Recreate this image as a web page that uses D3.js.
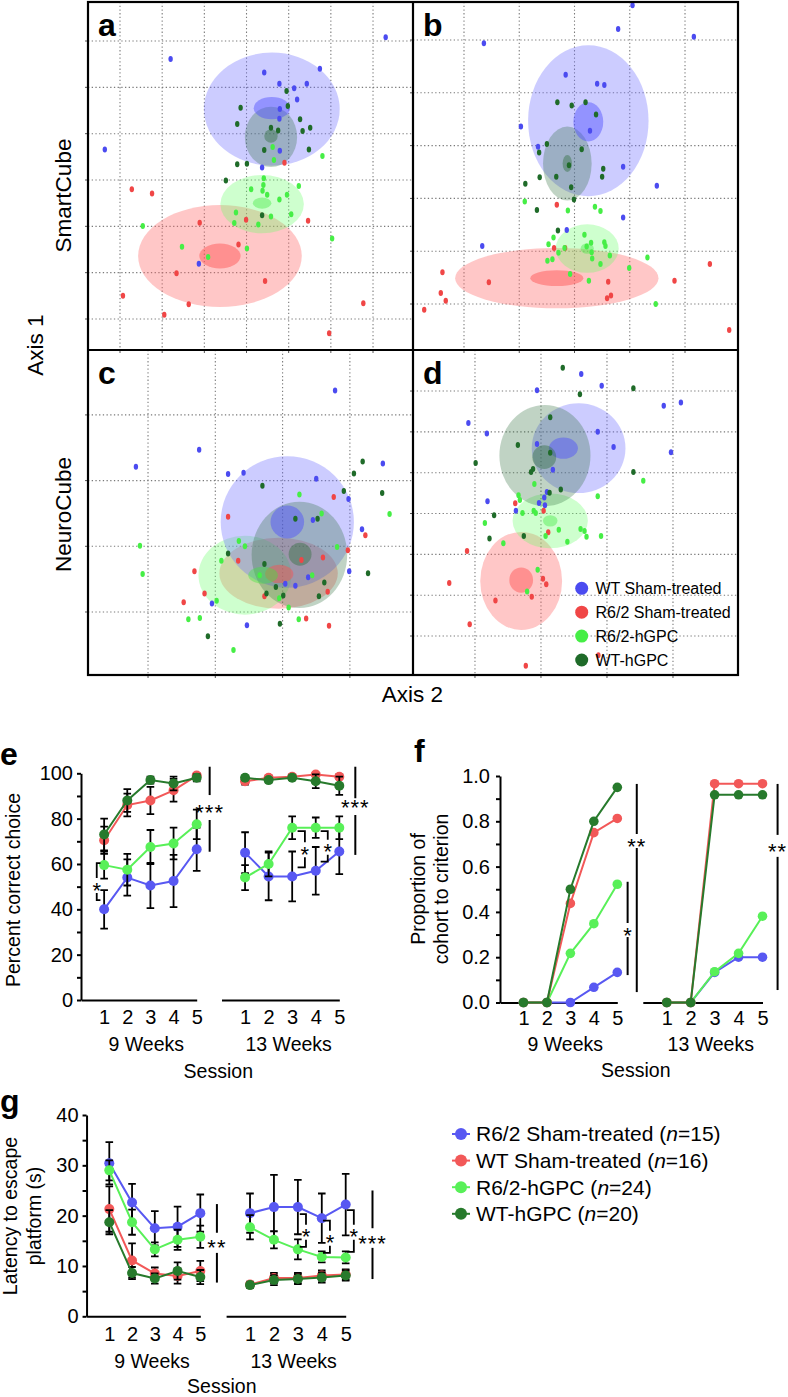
<!DOCTYPE html>
<html><head><meta charset="utf-8">
<script src="https://cdn.jsdelivr.net/npm/d3@7"></script>
<style>
body{margin:0;background:#fff}
svg{display:block;font-family:"Liberation Sans",Arial,Helvetica,sans-serif}
</style>
</head><body>
<svg id="chart" width="788" height="1397"></svg>
<script>
// ================= DATA =================
// --- Scatter panels a-d: points as [Axis 2, Axis 1] in grid units ---
const scatterGroups = ["WT Sham-treated","R6/2 Sham-treated","R6/2-hGPC","WT-hGPC"];
const scatterColors = ["#4b4bf0","#f04646","#46ee46","#1f6b29"];

const aWT   = [[6.30,6.08],[1.20,5.61],[3.42,5.32],[4.74,5.40],[3.78,5.08],[4.13,4.98],[4.43,5.08],[4.20,4.74],[3.79,4.53],[3.78,4.32],[-0.36,3.66],[3.79,3.63],[3.37,3.27],[1.87,1.19]];
const aR62  = [[3.90,3.37],[0.28,2.80],[0.76,2.71],[1.89,2.08],[2.99,2.14],[4.46,2.12],[2.81,1.61],[1.34,0.99],[3.44,0.82],[0.07,0.50],[1.63,0.32],[1.05,0.09],[5.77,0.34],[4.96,-0.31]];
const aR62h = [[3.62,3.71],[3.65,3.43],[4.80,3.52],[3.41,3.04],[3.40,2.89],[3.11,2.80],[3.38,2.77],[4.24,2.87],[3.49,2.68],[3.96,2.68],[3.78,2.58],[2.75,2.30],[3.58,2.21],[4.06,2.26],[2.71,2.07],[3.28,2.04],[0.54,2.01],[5.03,1.74],[1.47,1.56],[3.01,1.52],[2.09,1.34]];
const aWTh  = [[3.95,4.92],[2.86,4.56],[3.98,4.60],[2.78,4.21],[4.27,4.31],[3.58,4.13],[4.33,4.06],[4.51,4.13],[3.75,4.07],[3.42,3.65],[4.48,3.66],[2.78,3.34],[3.01,3.35],[2.51,2.99],[3.37,2.24]];

const bWT   = [[3.05,5.66],[2.79,5.21],[4.16,5.06],[0.36,4.94],[1.84,4.34],[2.41,4.17],[2.54,4.15],[1.03,3.36],[2.28,3.28],[1.34,2.98],[2.88,2.60],[3.49,2.24],[2.88,1.64],[1.86,1.40],[0.33,1.10]];
const bR62  = [[1.68,1.88],[1.63,1.06],[1.83,1.06],[4.45,0.76],[-0.39,0.60],[0.45,0.41],[2.61,0.42],[3.81,0.44],[-0.42,0.21],[-0.33,0.06],[2.66,0.16],[2.59,0.11],[-0.72,-0.11],[4.80,-0.49]];
const bR62h = [[1.10,1.94],[1.88,1.77],[2.37,1.84],[2.47,1.76],[1.62,1.26],[2.18,1.31],[1.53,1.13],[1.82,1.06],[2.22,1.09],[2.30,1.16],[2.54,1.17],[2.56,1.10],[1.71,0.97],[2.31,0.98],[2.64,0.92],[1.51,0.82],[1.60,0.85],[2.32,0.86],[2.47,0.76],[3.32,0.88],[2.99,0.68],[1.92,0.57],[2.26,0.44],[3.47,0.00]];
const bWTh  = [[1.69,3.82],[1.95,3.76],[2.20,3.82],[2.39,3.59],[1.50,3.03],[1.36,2.87],[2.13,2.93],[1.90,2.63],[2.52,2.56],[2.50,2.41],[1.67,2.41],[1.37,2.40],[1.11,2.28],[1.94,2.21],[1.99,1.98],[1.32,1.78],[1.70,1.39]];

const cWT   = [[2.78,3.37],[0.76,2.47],[-0.18,2.21],[1.19,2.10],[1.42,2.12],[3.49,2.26],[2.50,2.03],[2.98,1.72],[2.45,1.40],[3.18,1.26],[2.99,0.62],[2.04,0.43],[2.19,0.40],[2.38,0.53],[0.95,0.13],[1.47,-0.20]];
const cR62  = [[2.76,1.75],[1.19,1.45],[3.23,1.17],[2.97,0.94],[1.34,0.78],[2.60,0.83],[2.28,0.79],[0.69,0.62],[0.84,0.28],[2.67,0.31],[1.73,0.24],[0.53,0.15],[2.35,-0.10],[2.69,-0.21]];
const cR62h = [[2.25,1.79],[2.58,1.50],[3.59,1.49],[1.35,1.08],[1.44,1.00],[-0.12,1.01],[2.81,0.99],[1.09,0.78],[-0.08,0.58],[1.66,0.56],[2.44,0.56],[1.02,0.17],[1.95,0.21],[2.09,0.07],[0.60,-0.11],[0.77,-0.09],[2.24,-0.11],[1.27,-0.58]];
const cWTh  = [[3.19,2.29],[3.06,2.11],[1.70,1.92],[2.91,1.84],[3.48,1.81],[2.19,1.42],[2.52,1.42],[1.19,0.89],[1.73,0.73],[3.27,0.59],[2.62,0.45],[1.90,0.38],[1.76,0.28],[2.01,0.25],[2.54,0.24],[1.96,-0.18],[0.89,-0.37]];

const dWT   = [[1.61,6.42],[1.92,6.13],[0.94,6.02],[2.86,5.64],[3.12,5.72],[-0.10,5.22],[0.18,4.96],[1.86,5.00],[0.94,4.70],[2.10,4.63],[2.97,4.50],[1.18,4.07],[1.09,3.53],[1.05,3.39],[0.97,3.26],[1.06,3.20],[0.19,3.30],[0.62,3.07]];
const dR62  = [[0.61,3.25],[1.04,3.07],[1.11,2.54],[-0.12,2.08],[-0.39,1.30],[1.03,1.40],[1.08,1.27],[0.86,0.96],[0.31,0.87],[-0.08,0.29],[0.77,-0.73],[1.87,-0.47]];
const dR62h = [[0.90,3.72],[2.55,3.80],[0.66,3.45],[0.68,3.33],[1.86,3.42],[0.89,3.07],[0.92,3.01],[0.72,3.01],[0.15,2.77],[1.27,2.60],[1.60,2.62],[1.66,2.57],[1.69,2.43],[1.91,2.45],[1.07,2.45],[1.40,2.31],[0.43,2.27],[0.95,1.62],[0.79,1.09]];
const dWTh  = [[1.33,6.57],[1.59,5.92],[2.40,6.07],[1.14,5.36],[0.65,4.68],[1.14,4.49],[0.01,4.24],[0.88,4.09],[0.85,4.02],[2.40,4.02],[1.13,3.51],[1.30,3.59],[0.29,2.96],[0.22,2.39],[0.74,2.45]];

// Confidence ellipses [centre Axis2, centre Axis1, radius Axis2, radius Axis1], group order as scatterGroups
const aEllOuter = [[3.60,4.53,1.61,1.22],[2.37,1.36,1.94,1.10],[3.37,2.48,0.99,0.63],[3.58,3.93,0.62,0.65]];
const aEllInner = [[3.60,4.55,0.43,0.24],[2.37,1.36,0.49,0.27],[3.37,2.50,0.22,0.12],[3.58,3.95,0.16,0.145]];
const bEllOuter = [[2.25,3.47,1.09,1.43],[1.68,0.49,1.84,0.57],[2.23,1.05,0.57,0.46],[1.87,2.66,0.44,0.70]];
const bEllInner = [[2.25,3.45,0.27,0.37],[1.68,0.49,0.48,0.15],[2.23,1.05,0.12,0.10],[1.87,2.66,0.085,0.16]];
const cEllOuter = [[2.07,1.37,0.99,1.00],[1.94,0.59,0.88,0.54],[1.44,0.56,0.69,0.60],[2.25,0.87,0.71,0.81]];
const cEllInner = [[2.07,1.37,0.25,0.25],[1.95,0.58,0.21,0.14],[1.71,0.56,0.22,0.13],[2.26,0.88,0.17,0.175]];
const dEllOuter = [[1.57,4.60,0.71,1.10],[0.70,1.35,0.62,1.20],[1.14,2.82,0.57,0.67],[1.06,4.42,0.69,1.24]];
const dEllInner = [[1.34,4.60,0.22,0.26],[0.70,1.37,0.18,0.31],[1.14,2.82,0.11,0.14],[1.05,4.38,0.18,0.29]];

// --- Line panels e-g ---
const sessions = [1,2,3,4,5];
const lineGroups = ["R6/2 Sham-treated","WT Sham-treated","R6/2-hGPC","WT-hGPC"];
const lineN = [15,16,24,20];
const lineColors = ["#5858f2","#f25858","#58f058","#277a2c"];

// e: Percent correct choice (mean, SEM)
const eR62Sham9 = [40,54,50.5,52.5,66.5],   eR62Sham9Err = [8.5,8,10,11.5,9.5];
const eWTSham9  = [70.5,86,88,92.5,99],     eWTSham9Err  = [6,5,6,5,1];
const eR62hGPC9 = [59.5,57.5,67.5,69,77.5], eR62hGPC9Err = [6,7,7.5,7,6.5];
const eWThGPC9  = [73,88,97,95.5,98],       eWThGPC9Err  = [7,5,1.5,3,1.5];
const eR62Sham13 = [65,54.5,54.5,57,65.5],   eR62Sham13Err = [9,10.5,11,10.5,10];
const eWTSham13  = [96.5,98,98.5,99.5,98.5], eWTSham13Err  = [1.5,1,1,0.5,1];
const eR62hGPC13 = [54,60,76,76,76],         eR62hGPC13Err = [5.5,5.5,5,4.5,5];
const eWThGPC13  = [98,97,98,96.5,94.5],     eWThGPC13Err  = [1,1,1,3,4];

// f: Proportion of cohort to criterion
const fR62Sham9 = [0,0,0,0.067,0.133];
const fWTSham9  = [0,0,0.4375,0.75,0.8125];
const fR62hGPC9 = [0,0,0.217,0.348,0.522];
const fWThGPC9  = [0,0,0.5,0.8,0.95];
const fR62Sham13 = [0,0,0.133,0.2,0.2];
const fWTSham13  = [0,0,0.966,0.966,0.966];
const fR62hGPC13 = [0,0,0.136,0.217,0.381];
const fWThGPC13  = [0,0,0.917,0.917,0.917];

// g: Latency to escape platform (s) (mean, SEM)
const gR62Sham9 = [30.4,22.6,17.5,17.8,20.5], gR62Sham9Err = [4.2,3.7,3.4,4,3.7];
const gWTSham9  = [21.3,11.1,8.5,8,9],        gWTSham9Err  = [4.5,3.4,1.2,1.5,2];
const gR62hGPC9 = [29,18.7,13.3,15.2,15.8],   gR62hGPC9Err = [2,2.5,1.4,2,2.2];
const gWThGPC9  = [18.7,8.6,7.5,9,7.8],       gWThGPC9Err  = [2.4,1.2,1,1.7,1.4];
const gR62Sham13 = [20.5,21.7,21.7,19.5,22.2], gR62Sham13Err = [3.9,6.4,5.4,4.9,6.1];
const gWTSham13  = [6.3,7.6,7.6,8.1,8.3],      gWTSham13Err  = [0.6,1,1,1,1];
const gR62hGPC13 = [17.7,15.2,13.3,11.8,11.7], gR62hGPC13Err = [2.4,1.7,2,1.1,1.2];
const gWThGPC13  = [6.2,7.2,7.4,7.7,8.1],      gWThGPC13Err  = [0.5,1,1,1,1];

// significance annotations (session units / value units)
const eSigBars = [{seg:"9",x:5.56,ranges:[[90.4,102.9],[65.4,79.4]],star:"***",sy:84.7},{seg:"13",x:5.68,ranges:[[89,102.9],[64,81.6]],star:"***",sy:86.9}];
const eSigBrackets = [{seg:"9",x:0.68,tick:0.84,y1:60.4,y2:44.1,sy:50.7},{seg:"13",x:3.54,tick:3.23,y1:74.5,y2:58.5,sy:66.5},{seg:"13",x:4.51,tick:4.21,y1:74.5,y2:61,sy:67.6}];
const fSigBars = [{seg:"9",x:5.83,ranges:[[0.744,0.965],[0.046,0.682]],star:"**",sy:0.71},{seg:"9",x:5.44,ranges:[[0.351,0.533],[0.121,0.289]],star:"*",sy:0.32},{seg:"13",x:5.63,ranges:[[0.740,0.965],[0.055,0.643]],star:"**",sy:0.687}];
const gSigBars = [{seg:"9",x:5.73,ranges:[[16.6,22.3],[6.7,12.6]],star:"**",sy:14.6},{seg:"13",x:6.12,ranges:[[17.5,25.0],[7.4,13.6]],star:"***",sy:15.4}];
const gSigBrackets = [{seg:"13",x:3.34,tick:3.08,y1:20.3,y2:13.8,sy:16.8},{seg:"13",x:4.34,tick:4.05,y1:19.0,y2:12.6,sy:15.6},{seg:"13",x:5.34,tick:5.05,y1:21.1,y2:12.8,sy:16.8}];

// ================= DRAW =================
const svg = d3.select("#chart");
const FONT = '"Liberation Sans", Arial, Helvetica, sans-serif';

// ---------- scatter panels ----------
const panels = [
  {L:"a",x0:88, x1:413,y0:2,  y1:350,xDom:[-0.759,6.948],yDom:[-0.669,6.842],xg:d3.range(0,7),yg:d3.range(0,7),pts:[aWT,aR62,aR62h,aWTh],outer:aEllOuter,inner:aEllInner},
  {L:"b",x0:413,x1:738,y0:2,  y1:350,xDom:[-0.923,4.959],yDom:[-0.871,5.720],xg:d3.range(0,5),yg:d3.range(0,6),pts:[bWT,bR62,bR62h,bWTh],outer:bEllOuter,inner:bEllInner},
  {L:"c",x0:88, x1:413,y0:350,y1:675,xDom:[-0.892,3.938],yDom:[-0.959,3.988],xg:d3.range(0,4),yg:d3.range(0,4),pts:[cWT,cR62,cR62h,cWTh],outer:cEllOuter,inner:cEllInner},
  {L:"d",x0:413,x1:738,y0:350,y1:675,xDom:[-0.939,3.985],yDom:[-0.955,7.005],xg:d3.range(0,4),yg:d3.range(0,7),pts:[dWT,dR62,dR62h,dWTh],outer:dEllOuter,inner:dEllInner}
];
const outerFill = ["#7373ff","#ff6b6b","#6bff6b","#2f6e3c"], outerOp=[0.36,0.38,0.33,0.30];
const innerFill = ["#4d4dff","#ff4d4d","#3de83d","#2f6e3c"], innerOp=[0.45,0.45,0.40,0.42];
const drawOrder = [1,2,0,3];
const defs = svg.append("defs");

panels.forEach((p,pi)=>{
  const xs = d3.scaleLinear().domain(p.xDom).range([p.x0,p.x1]);
  const ys = d3.scaleLinear().domain(p.yDom).range([p.y1,p.y0]);
  defs.append("clipPath").attr("id","clip"+pi).append("rect")
    .attr("x",p.x0).attr("y",p.y0).attr("width",p.x1-p.x0).attr("height",p.y1-p.y0);
  const g = svg.append("g");
  g.selectAll(".tx").data(p.xg).join("line").attr("x1",d=>xs(d)).attr("x2",d=>xs(d))
    .attr("y1",p.y1).attr("y2",p.y1+3).attr("stroke","#555").attr("stroke-width",1);
  g.selectAll(".ty").data(p.yg).join("line").attr("y1",d=>ys(d)).attr("y2",d=>ys(d))
    .attr("x1",p.x0-3).attr("x2",p.x0).attr("stroke","#555").attr("stroke-width",1);
  const gc = g.append("g").attr("clip-path",`url(#clip${pi})`);
  gc.selectAll(".gx").data(p.xg).join("line").attr("x1",d=>xs(d)).attr("x2",d=>xs(d))
    .attr("y1",p.y0).attr("y2",p.y1).attr("stroke","#7a7a7a").attr("stroke-width",1.1).attr("stroke-dasharray","1.3,2.4");
  gc.selectAll(".gy").data(p.yg).join("line").attr("y1",d=>ys(d)).attr("y2",d=>ys(d))
    .attr("x1",p.x0).attr("x2",p.x1).attr("stroke","#7a7a7a").attr("stroke-width",1.1).attr("stroke-dasharray","1.3,2.4");
  const ell = (arr,fills,ops)=>drawOrder.forEach(k=>{
    const e = arr[k];
    gc.append("ellipse").attr("cx",xs(e[0])).attr("cy",ys(e[1]))
      .attr("rx",xs(e[0]+e[2])-xs(e[0])).attr("ry",ys(e[1])-ys(e[1]+e[3]))
      .attr("fill",fills[k]).attr("fill-opacity",ops[k]);
  });
  ell(p.outer,outerFill,outerOp);
  ell(p.inner,innerFill,innerOp);
  [0,1,2,3].forEach(k=>{
    gc.selectAll(".pt"+k).data(p.pts[k]).join("ellipse")
      .attr("cx",d=>xs(d[0])).attr("cy",d=>ys(d[1])).attr("rx",2.2).attr("ry",3)
      .attr("fill",scatterColors[k]);
  });
  svg.append("text").attr("x",p.x0+10).attr("y",p.y0+34).attr("font-size",32).attr("font-weight","bold").text(p.L);
});
svg.append("rect").attr("x",88).attr("y",2).attr("width",650).attr("height",673).attr("fill","none").attr("stroke","#000").attr("stroke-width",2.2);
svg.append("line").attr("x1",413).attr("x2",413).attr("y1",2).attr("y2",675).attr("stroke","#000").attr("stroke-width",2.2);
svg.append("line").attr("x1",88).attr("x2",738).attr("y1",350).attr("y2",350).attr("stroke","#000").attr("stroke-width",2.2);

const rotText=(x,y,txt,fs)=>svg.append("text").attr("transform",`translate(${x},${y}) rotate(-90)`)
  .attr("text-anchor","middle").attr("font-size",fs).text(txt);
rotText(43,345,"Axis 1",22.5);
rotText(70.5,195.5,"SmartCube",22.5);
rotText(70.5,514.5,"NeuroCube",22.5);
svg.append("text").attr("x",412.5).attr("y",702).attr("text-anchor","middle").attr("font-size",22.5).text("Axis 2");

const lg = svg.append("g");
scatterGroups.forEach((name,i)=>{
  const cy = 588.3 + i*23.9;
  lg.append("circle").attr("cx",581.7).attr("cy",cy).attr("r",6.5).attr("fill",scatterColors[i]);
  lg.append("text").attr("x",595.5).attr("y",cy+5.8).attr("font-size",16).text(name);
});

// ---------- line panels ----------
function starText(g,x,yc,str){
  g.append("text").attr("x",x).attr("y",yc+12.5).attr("text-anchor","middle")
    .attr("font-size",22).attr("letter-spacing",str.length>1?1:0).text(str);
}
function linePanel(cfg){
  const g = svg.append("g");
  const y = d3.scaleLinear().domain(cfg.yDom).range(cfg.yRange);
  const xsc = {"9":d3.scaleLinear().domain([0,5]).range(cfg.x9),"13":d3.scaleLinear().domain([0,5]).range(cfg.x13)};
  const styleAxis = a=>{a.selectAll("path,line").attr("stroke","#000").attr("stroke-width",2);
    a.selectAll("text").attr("font-size",20).attr("font-family",FONT).attr("fill","#000");};
  const ya = g.append("g").attr("transform",`translate(${cfg.x9[0]},0)`)
    .call(d3.axisLeft(y).tickValues(cfg.yTicks).tickFormat(cfg.fmt).tickSize(4).tickSizeOuter(0).tickPadding(cfg.pad));
  styleAxis(ya);
  const ym = g.append("g").attr("transform",`translate(${cfg.x9[0]},0)`)
    .call(d3.axisLeft(y).tickValues(cfg.yMinor).tickFormat("").tickSize(4).tickSizeOuter(0));
  styleAxis(ym); ym.select(".domain").remove();
  ["9","13"].forEach(s=>{
    const xa = g.append("g").attr("transform",`translate(0,${cfg.yRange[0]})`)
      .call(d3.axisBottom(xsc[s]).tickValues(sessions).tickFormat(d3.format("d")).tickSize(0).tickSizeOuter(0).tickPadding(cfg.xpad));
    styleAxis(xa);
  });
  [0,2,1,3].forEach(k=>{
    ["9","13"].forEach(s=>{
      const xs = xsc[s], vals = cfg.vals[s][k], errs = cfg.errs ? cfg.errs[s][k] : null;
      if(errs){
        const p = d3.path();
        vals.forEach((v,i)=>{
          const x = xs(sessions[i]), e = errs[i], cw = 3.8;
          p.moveTo(x-cw,y(v+e)); p.lineTo(x+cw,y(v+e));
          p.moveTo(x,y(v+e)); p.lineTo(x,y(v-e));
          p.moveTo(x-cw,y(v-e)); p.lineTo(x+cw,y(v-e));
        });
        g.append("path").attr("d",p.toString()).attr("stroke","#000").attr("stroke-width",1.8).attr("fill","none");
      }
      g.append("path").datum(vals).attr("fill","none").attr("stroke",lineColors[k]).attr("stroke-width",2)
        .attr("d",d3.line().x((d,i)=>xs(sessions[i])).y(d=>y(d)));
      g.selectAll(null).data(vals).join("circle").attr("cx",(d,i)=>xs(sessions[i])).attr("cy",d=>y(d))
        .attr("r",cfg.r).attr("fill",lineColors[k]);
    });
  });
  (cfg.bars||[]).forEach(b=>{
    const x = xsc[b.seg](b.x);
    b.ranges.forEach(r=>g.append("line").attr("x1",x).attr("x2",x).attr("y1",y(r[0])).attr("y2",y(r[1]))
      .attr("stroke","#000").attr("stroke-width",2));
    starText(g,x,y(b.sy),b.star);
  });
  (cfg.brackets||[]).forEach(b=>{
    const x = xsc[b.seg](b.x), xt = xsc[b.seg](b.tick), ys = y(b.sy);
    const p = d3.path();
    p.moveTo(xt,y(b.y1)); p.lineTo(x,y(b.y1)); p.lineTo(x,ys-7);
    p.moveTo(x,ys+8); p.lineTo(x,y(b.y2)); p.lineTo(xt,y(b.y2));
    g.append("path").attr("d",p.toString()).attr("stroke","#000").attr("stroke-width",1.8).attr("fill","none");
    starText(g,x,ys,"*");
  });
  cfg.wk.forEach(w=>g.append("text").attr("x",w[0]).attr("y",w[1]).attr("text-anchor","middle").attr("font-size",19.5).text(w[2]));
  cfg.ylab.forEach(l=>g.append("text").attr("transform",`translate(${l[0]},${l[1]}) rotate(-90)`).attr("text-anchor","middle").attr("font-size",19.5).text(l[2]));
  g.append("text").attr("x",cfg.letter[0]).attr("y",cfg.letter[1]).attr("font-size",32).attr("font-weight","bold").text(cfg.letter[2]);
}

linePanel({
  yDom:[0,100], yRange:[1000,773.3], x9:[81,196.7], x13:[221.5,339.3],
  yTicks:[0,20,40,60,80,100], yMinor:[10,30,50,70,90], fmt:d3.format("d"), pad:4, xpad:10, r:5,
  vals:{"9":[eR62Sham9,eWTSham9,eR62hGPC9,eWThGPC9],"13":[eR62Sham13,eWTSham13,eR62hGPC13,eWThGPC13]},
  errs:{"9":[eR62Sham9Err,eWTSham9Err,eR62hGPC9Err,eWThGPC9Err],"13":[eR62Sham13Err,eWTSham13Err,eR62hGPC13Err,eWThGPC13Err]},
  bars:eSigBars, brackets:eSigBrackets,
  wk:[[146.3,1051,"9 Weeks"],[288.7,1051,"13 Weeks"],[218.3,1078,"Session"]],
  ylab:[[20,890,"Percent correct choice"]],
  letter:[0,765,"e"]
});
linePanel({
  yDom:[0,1], yRange:[1002.5,776], x9:[500,617.3], x13:[642.8,762.5],
  yTicks:[0,0.2,0.4,0.6,0.8,1.0], yMinor:[0.1,0.3,0.5,0.7,0.9], fmt:d3.format(".1f"), pad:6, xpad:8.3, r:4.8,
  vals:{"9":[fR62Sham9,fWTSham9,fR62hGPC9,fWThGPC9],"13":[fR62Sham13,fWTSham13,fR62hGPC13,fWThGPC13]},
  errs:null, bars:fSigBars, brackets:[],
  wk:[[565.3,1050.7,"9 Weeks"],[710.8,1050.7,"13 Weeks"],[635.8,1077,"Session"]],
  ylab:[[425,889,"Proportion of"],[448,889,"cohort to criterion"]],
  letter:[414,762,"f"]
});
linePanel({
  yDom:[0,40], yRange:[1316.3,1115], x9:[86.55,200.3], x13:[226.1,345.7],
  yTicks:[0,10,20,30,40], yMinor:[5,15,25,35], fmt:d3.format("d"), pad:4, xpad:10.2, r:5,
  vals:{"9":[gR62Sham9,gWTSham9,gR62hGPC9,gWThGPC9],"13":[gR62Sham13,gWTSham13,gR62hGPC13,gWThGPC13]},
  errs:{"9":[gR62Sham9Err,gWTSham9Err,gR62hGPC9Err,gWThGPC9Err],"13":[gR62Sham13Err,gWTSham13Err,gR62hGPC13Err,gWThGPC13Err]},
  bars:gSigBars, brackets:gSigBrackets,
  wk:[[152,1368,"9 Weeks"],[293.7,1368,"13 Weeks"],[221.8,1392.7,"Session"]],
  ylab:[[17,1216,"Latency to escape"],[41,1216,"platform (s)"]],
  letter:[0,1112,"g"]
});

const lgl = svg.append("g");
lineGroups.forEach((name,i)=>{
  const cy = 1134 + i*26.6;
  lgl.append("line").attr("x1",452).attr("x2",470).attr("y1",cy).attr("y2",cy).attr("stroke",lineColors[i]).attr("stroke-width",2);
  lgl.append("circle").attr("cx",461).attr("cy",cy).attr("r",6).attr("fill",lineColors[i]);
  const t = lgl.append("text").attr("x",476).attr("y",cy+7.3).attr("font-size",21);
  t.append("tspan").text(name+" (");
  t.append("tspan").attr("font-style","italic").text("n");
  t.append("tspan").text("="+lineN[i]+")");
});
</script>
</body></html>
